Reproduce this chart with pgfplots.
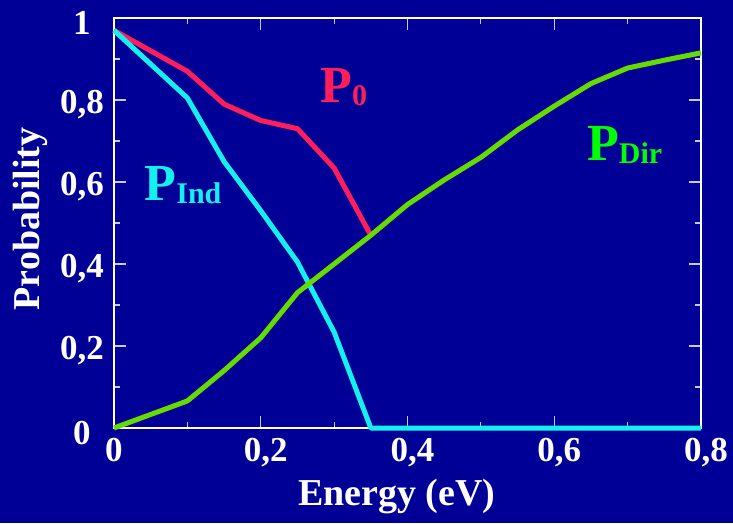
\documentclass[border=0pt]{standalone}
\usepackage{fontspec}
\setmainfont{Liberation Serif}
\usepackage{pgfplots}
\pgfplotsset{compat=1.18}
\definecolor{bg}{RGB}{0,0,150}
\definecolor{pzero}{RGB}{255,30,90}
\definecolor{pind}{RGB}{20,240,240}
\definecolor{pdir}{RGB}{100,220,0}
\definecolor{tickc}{RGB}{200,200,235}
\newcommand{\lab}[3]{{\color{#1}\fontsize{52}{52}\selectfont\bfseries P\raisebox{-3pt}{\fontsize{30}{30}\selectfont #2}#3}}
\begin{document}
\begin{tikzpicture}
\useasboundingbox (0,0) rectangle (733pt,523pt);
\fill[bg] (0,0) rectangle (733pt,523pt);
\begin{axis}[
  at={(114pt,95pt)}, anchor=south west,
  scale only axis, width=587pt, height=410pt,
  xmin=0, xmax=0.8, ymin=0, ymax=1,
  xtick={0,0.2,0.4,0.6,0.8}, ytick={0,0.2,0.4,0.6,0.8,1},
  minor xtick={0.1,0.3,0.5,0.7}, minor ytick={0.1,0.3,0.5,0.7,0.9},
  xticklabels={{\kern-10pt 0},{0,2},{0,4},{0,6},{0,8}},
  yticklabels={0,{0,2},{0,4},{0,6},{0,8},1},
  tick align=inside,
  major tick length=12pt, minor tick length=6pt,
  every tick/.style={tickc, line width=1.2pt},
  axis line style={white, line width=1.5pt},
  ticklabel style={white, font=\fontsize{35}{35}\selectfont\bfseries},
  /pgf/number format/assume math mode=true,
  xticklabel style={yshift=-7pt, xshift=5pt},
  yticklabel style={anchor=center, xshift=-32pt, yshift=-5pt},
  xlabel={Energy (eV)}, ylabel={Probability},
  xlabel style={white, font=\fontsize{38}{38}\selectfont\bfseries, at={(axis description cs:0.482,-0.168)}, anchor=center},
  ylabel style={white, font=\fontsize{38}{38}\selectfont\bfseries, at={(axis description cs:-0.143,0.51)}, rotate=0, anchor=center},
  clip=false,
]
\addplot[pzero, line width=5pt, line join=round] coordinates {
  (0,0.97) (0.1,0.87) (0.15,0.79) (0.2,0.75) (0.25,0.73) (0.3,0.634) (0.35,0.47)};
\addplot[pind, line width=5pt, line join=round] coordinates {
  (0,0.97) (0.1,0.805) (0.15,0.65) (0.2,0.53) (0.25,0.405) (0.3,0.234) (0.35,0) (0.8,0)};
\addplot[pdir, line width=5pt, line join=round] coordinates {
  (0,0) (0.1,0.066) (0.15,0.14) (0.2,0.22) (0.25,0.33) (0.3,0.40) (0.35,0.47)
  (0.4,0.545) (0.45,0.605) (0.5,0.66) (0.55,0.727) (0.6,0.785) (0.65,0.84)
  (0.7,0.878) (0.75,0.897) (0.8,0.915)};
\node at (axis cs:0.313,0.832) {\lab{pzero}{0}{}};
\node at (axis cs:0.094,0.593) {\lab{pind}{Ind}{}};
\node at (axis cs:0.696,0.69) {\lab{green}{Dir}{}};
\end{axis}
\end{tikzpicture}
\end{document}
